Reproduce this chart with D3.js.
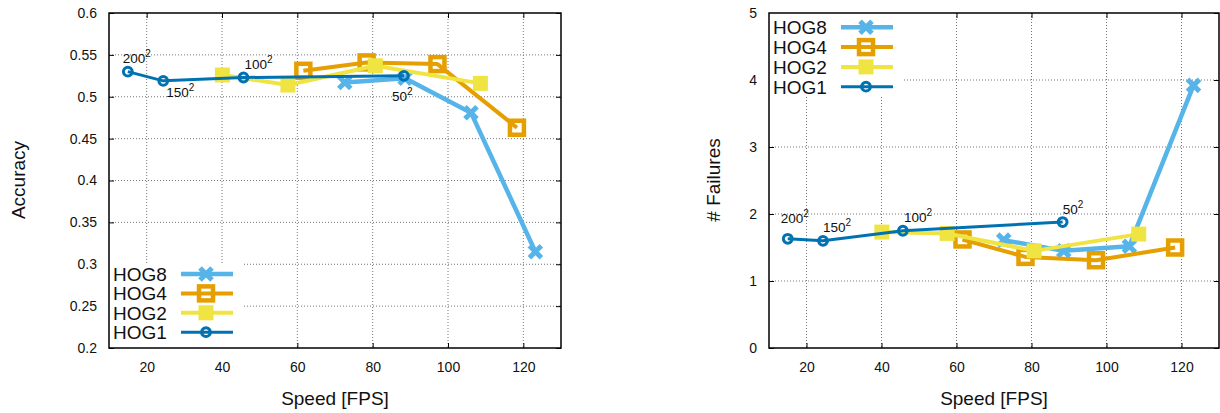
<!DOCTYPE html>
<html>
<head>
<meta charset="utf-8">
<script src="https://cdn.jsdelivr.net/npm/d3@7"></script>
<style>
  body { margin: 0; background: white; }
  svg { display: block; font-family: "Liberation Sans", Arial, Helvetica, sans-serif; }
</style>
</head>
<body>
<svg width="1220" height="413"></svg>
<script>
  // Data
  const series = ["HOG8", "HOG4", "HOG2", "HOG1"];
  const colors = ["#56B4E9", "#E69F00", "#F0E442", "#0072B2"];

  const fps = [
    [72.6, 88.6, 106.1, 123.2],   // HOG8
    [61.6, 78.4, 97.2, 118.3],    // HOG4
    [40.1, 57.5, 80.7, 108.6],    // HOG2
    [15.0, 24.4, 45.7, 88.3]      // HOG1
  ];
  const accuracy = [
    [0.517, 0.522, 0.481, 0.315],
    [0.531, 0.541, 0.539, 0.463],
    [0.526, 0.514, 0.537, 0.516],
    [0.530, 0.519, 0.523, 0.525]
  ];
  const failures = [
    [1.61, 1.45, 1.52, 3.92],
    [1.62, 1.36, 1.31, 1.50],
    [1.73, 1.71, 1.45, 1.70],
    [1.63, 1.60, 1.75, 1.88]
  ];
  // window sizes, labelled along HOG1
  const sizeLabels = ["200", "150", "100", "50"];

  const xTicks = [20, 40, 60, 80, 100, 120];
  const accTicks = [0.2, 0.25, 0.3, 0.35, 0.4, 0.45, 0.5, 0.55, 0.6];
  const failTicks = [0, 1, 2, 3, 4, 5];

  const svg = d3.select("svg");

  // marker styles per series
  const lineWidth = [4.5, 4, 4, 3];

  function marker(g, i, color) {
    if (i === 0) {
      g.append("path").attr("d", "M-6,-6L6,6M-6,6L6,-6")
        .attr("stroke", color).attr("stroke-width", 5).attr("fill", "none");
    } else if (i === 1) {
      g.append("rect").attr("x", -7).attr("y", -7).attr("width", 14).attr("height", 14)
        .attr("fill", "none").attr("stroke", color).attr("stroke-width", 4.5);
    } else if (i === 2) {
      g.append("rect").attr("x", -7.5).attr("y", -7.5).attr("width", 15).attr("height", 15)
        .attr("fill", color);
    } else {
      g.append("circle").attr("r", 4.4)
        .attr("fill", "none").attr("stroke", color).attr("stroke-width", 3);
    }
  }

  function panel(cfg) {
    const x = d3.scaleLinear().domain([10, 130]).range([cfg.left, cfg.right]);
    const y = d3.scaleLinear().domain(cfg.yDomain).range([348, 13]);
    const g = svg.append("g");

    // grid
    g.append("g").selectAll("line").data(xTicks).join("line")
      .attr("x1", d => x(d)).attr("x2", d => x(d)).attr("y1", 13).attr("y2", 348)
      .attr("stroke", "#777").attr("stroke-width", 1).attr("stroke-dasharray", "1,2");
    g.append("g").selectAll("line").data(cfg.yTicks.slice(1, -1)).join("line")
      .attr("x1", cfg.left).attr("x2", cfg.right).attr("y1", d => y(d)).attr("y2", d => y(d))
      .attr("stroke", "#777").attr("stroke-width", 1).attr("stroke-dasharray", "1,2");

    // axes (ticks drawn inward, mirrored)
    const axB = d3.axisBottom(x).tickValues(xTicks).tickSize(-5).tickPadding(14);
    const axT = d3.axisTop(x).tickValues(xTicks).tickSize(-5).tickFormat("");
    const axL = d3.axisLeft(y).tickValues(cfg.yTicks).tickSize(-5).tickPadding(12)
      .tickFormat(cfg.fmt);
    const axR = d3.axisRight(y).tickValues(cfg.yTicks).tickSize(-5).tickFormat("");
    [[axB, `translate(0,348)`], [axT, `translate(0,13)`],
     [axL, `translate(${cfg.left},0)`], [axR, `translate(${cfg.right},0)`]].forEach(([ax, t]) => {
      const a = g.append("g").attr("transform", t).call(ax);
      a.select(".domain").remove();
      a.selectAll("line").attr("stroke", "#000");
      a.selectAll("text").attr("font-size", 14).attr("fill", "#111")
        .attr("font-family", "Liberation Sans, Arial, sans-serif");
    });

    // legend box (opaque) sits beneath the data
    const lg = cfg.legend;
    g.append("rect").attr("x", cfg.left).attr("y", lg.top)
      .attr("width", lg.w).attr("height", lg.h).attr("fill", "white");

    // series, drawn HOG8 first so HOG1 ends on top
    const line = d3.line().x(d => x(d[0])).y(d => y(d[1]));
    series.forEach((name, i) => {
      const pts = fps[i].map((v, j) => [v, cfg.values[i][j]]);
      g.append("path").datum(pts).attr("d", line)
        .attr("fill", "none").attr("stroke", colors[i]).attr("stroke-width", lineWidth[i])
        .attr("stroke-linejoin", "round");
      pts.forEach(p => {
        marker(g.append("g").attr("transform", `translate(${x(p[0])},${y(p[1])})`), i, colors[i]);
      });
    });

    // window size labels on HOG1
    sizeLabels.forEach((lab, j) => {
      const px = x(fps[3][j]), py = y(cfg.values[3][j]);
      const off = cfg.labelOffsets[j];
      const t = g.append("text").attr("x", px + off[0]).attr("y", py + off[1])
        .attr("font-size", 13.5).attr("fill", "#111");
      t.append("tspan").text(lab);
      t.append("tspan").attr("font-size", 10).attr("dy", -6).text("2");
    });

    // legend entries
    series.forEach((name, i) => {
      const cy = lg.first + i * lg.step;
      g.append("text").attr("x", cfg.left + 4).attr("y", cy + 7)
        .attr("font-size", 19).attr("fill", "#111").text(name);
      g.append("line").attr("x1", cfg.left + 72).attr("x2", cfg.left + 124)
        .attr("y1", cy).attr("y2", cy)
        .attr("stroke", colors[i]).attr("stroke-width", lineWidth[i]);
      marker(g.append("g").attr("transform", `translate(${cfg.left + 97},${cy})`), i, colors[i]);
    });

    // frame
    g.append("rect").attr("x", cfg.left).attr("y", 13)
      .attr("width", cfg.right - cfg.left).attr("height", 335)
      .attr("fill", "none").attr("stroke", "#000").attr("stroke-width", 1.5);

    // axis titles
    g.append("text").attr("x", (cfg.left + cfg.right) / 2).attr("y", 405)
      .attr("text-anchor", "middle").attr("font-size", 19).attr("fill", "#111")
      .text("Speed [FPS]");
    g.append("text").attr("transform", `translate(${cfg.yTitleX},180) rotate(-90)`)
      .attr("text-anchor", "middle").attr("dy", "0.35em")
      .attr("font-size", 19).attr("fill", "#111").text(cfg.yTitle);
  }

  panel({
    left: 109, right: 561, yDomain: [0.2, 0.6], yTicks: accTicks,
    fmt: d3.format(""), values: accuracy, yTitle: "Accuracy", yTitleX: 18,
    legend: { top: 263, w: 134, h: 85, first: 274, step: 19.4 },
    labelOffsets: [[-5, -9], [3, 16], [1, -8], [-12, 25]]
  });

  panel({
    left: 769, right: 1219, yDomain: [0, 5], yTicks: failTicks,
    fmt: d3.format(""), values: failures, yTitle: "# Failures", yTitleX: 713,
    legend: { top: 13, w: 135, h: 83, first: 27.3, step: 19.8 },
    labelOffsets: [[-7, -16], [0, -9], [1, -9], [0, -8]]
  });
</script>
</body>
</html>
